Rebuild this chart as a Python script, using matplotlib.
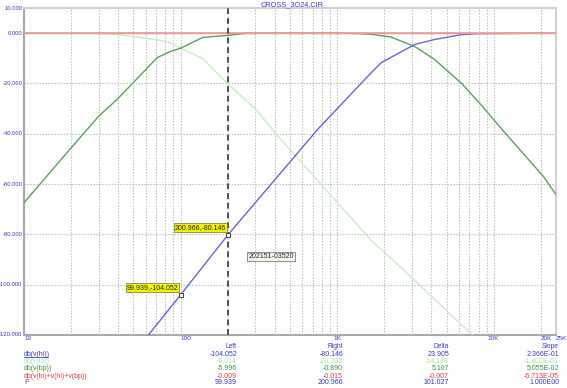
import matplotlib
matplotlib.use("Agg")
import matplotlib.pyplot as plt
from matplotlib.ticker import NullLocator
import matplotlib.transforms as mtransforms

plt.rcParams['font.family'] = ['Liberation Sans', 'DejaVu Sans']

# ---------------- data ----------------
title = "CROSS_3O24.CIR"

f_hi = [62.3, 100, 200.966, 755, 1652, 1914, 3130, 4200, 6240, 8000, 14000, 25000]
db_hi = [-120, -104.052, -80.146, -38.1, -15.7, -11.7, -4.5, -2.5, -0.6, -0.2, -0.1, 0.0]

f_lo = [10, 20, 30, 41, 50, 71, 86, 99.939, 138.6, 200.966, 302, 406, 1652, 3070, 6240, 7500]
db_lo = [0, 0, -0.1, -0.6, -1.4, -2.6, -3.8, -6.014, -10.1, -20.203, -30.2, -40, -82.4, -97.8, -116, -120.5]

f_bp = [10, 20, 30, 39.4, 50, 71, 86, 99.939, 138.6, 200.966, 260, 400, 1000, 1400, 1652,
        2200, 3130, 4200, 6240, 8440, 11200, 20800, 25000]
db_bp = [-67.4, -45.6, -33, -26.3, -19.6, -9.7, -7.3, -5.996, -1.7, -0.890, -0.1, 0, 0, -0.2, -0.5,
         -1.5, -5.3, -10.5, -20, -29, -38, -57, -64.2]

f_sum = [10, 99.939, 200.966, 25000]
db_sum = [-0.01, -0.009, -0.015, -0.01]

cursor_left = 99.939
cursor_right = 200.966

yticks = [10, 0, -20, -40, -60, -80, -100, -120]
ytick_labels = ["10.000", "0.000", "-20.000", "-40.000", "-60.000", "-80.000", "-100.000", "-120.000"]
xticks = [10, 100, 1000, 10000, 20000, 25000]
xtick_labels = ["10", "100", "1K", "10K", "20K", "25K"]

row_names = ["db(v(hi))", "db(v(lo))", "db(v(bp))", "db(v(lo)+v(hi)+v(bp))", "F"]
col_left = ["-104.052", "-6.014", "-5.996", "-0.009", "99.939"]
col_right = ["-80.146", "-20.203", "-0.890", "-0.015", "200.966"]
col_delta = ["23.905", "-14.189", "5.107", "-0.007", "101.027"]
col_slope = ["2.366E-01", "-1.403E-01", "5.055E-02", "-6.713E-05", "1.000E00"]
stamp = "202151-03520"

# ---------------- style ----------------
c_blue = "#6f5fd6"
c_lo = "#c6efc6"
c_bp = "#5e9f5e"
c_red = "#eb9a9a"
c_text = "#3838c8"
row_colors = [c_text, "#a8e2a8", "#3f8f3f", "#e03a3a", c_text]
FS = 5

W, H = 567, 388
fig = plt.figure(figsize=(W / 100, H / 100), dpi=100, facecolor="white")
L, R, T, B = 24, 556, 8, 335
ax = fig.add_axes([L / W, 1 - B / H, (R - L) / W, (B - T) / H])
ax.set_xscale("log")
ax.set_xlim(10, 25000)
ax.set_ylim(-120, 10)
ax.set_facecolor("white")

# grid
grid_x = []
for dec in [10, 100, 1000]:
    grid_x += [dec * k for k in range(2, 10)]
grid_x += [100, 1000, 10000, 20000]
for gx in grid_x:
    ax.axvline(gx, color="#b8b8b8", lw=0.8, ls=(0, (1.2, 1.5)), zorder=1)
for gy in [-20, -40, -60, -80, -100]:
    ax.axhline(gy, color="#b8b8b8", lw=0.8, ls=(0, (1.2, 1.5)), zorder=1)

ax.xaxis.set_major_locator(NullLocator())
ax.xaxis.set_minor_locator(NullLocator())
ax.yaxis.set_major_locator(NullLocator())
ax.yaxis.set_minor_locator(NullLocator())

for s in ["left", "bottom"]:
    ax.spines[s].set_color("#a8a8a8")
    ax.spines[s].set_linewidth(1.5)
for s in ["top", "right"]:
    ax.spines[s].set_color("#d0d0d0")
    ax.spines[s].set_linewidth(1.5)

# curves
ax.plot(f_lo, db_lo, color=c_lo, lw=1.0, zorder=3)
ax.plot(f_bp, db_bp, color=c_bp, lw=1.0, zorder=4)
ax.plot(f_hi, db_hi, color=c_blue, lw=1.0, zorder=4)
ax.plot(f_sum, db_sum, color=c_red, lw=1.5, zorder=5)

# cursor
ax.axvline(cursor_right, color="#505050", lw=1.4, ls=(0, (3, 2)), zorder=6)

# markers and annotation boxes
for fx, fy, txt in [(cursor_left, col_left[0], f"{cursor_left:.3f},{col_left[0]}"),
                    (cursor_right, col_right[0], f"{cursor_right:.3f},{col_right[0]}")]:
    yv = float(fy)
    ax.plot([fx], [yv], marker="s", ms=3.5, mfc="white", mec="#404040", mew=0.7, zorder=8)
    ax.annotate(txt, (fx, yv), xytext=(-1.5, 2.5), textcoords="offset points",
                ha="right", va="bottom", fontsize=FS, color="#202020", zorder=9,
                bbox=dict(boxstyle="square,pad=0.15", fc="#f4f400", ec="#707030", lw=0.5))

ax.text(378, -88.8, stamp, fontsize=FS, color="#202020", ha="center", va="center", zorder=9,
        bbox=dict(boxstyle="square,pad=0.2", fc="#f8f8f0", ec="#606060", lw=0.5))

# title
fig.text(292 / W, 1 - 5 / H, title, ha="center", va="center", fontsize=FS + 0.3, color=c_text)

# y tick labels
ytr = mtransforms.blended_transform_factory(ax.transAxes, ax.transData)
for yv, lab in zip(yticks, ytick_labels):
    ax.text(-0.003, yv, lab, transform=ytr, ha="right", va="center", fontsize=4.2, color=c_text)

# x tick labels
has = ["left", "left", "center", "center", "left", "left"]
xtr = mtransforms.blended_transform_factory(ax.transData, ax.transAxes)
for xv, lab, ha in zip(xticks, xtick_labels, has):
    ax.text(xv, -0.004, lab, transform=xtr, ha=ha, va="top", fontsize=4.6, color=c_text)

# cursor table
rows_y = [354, 361.5, 369, 376, 383]
cols_x = [237, 343, 449, 559]
for x, h in zip(cols_x, ["Left", "Right", "Delta", "Slope"]):
    fig.text(x / W, 1 - 347 / H, h, ha="right", va="center", fontsize=4.8, color=c_text)
for i, yy in enumerate(rows_y):
    col = row_colors[i]
    fig.text(24 / W, 1 - yy / H, row_names[i], ha="left", va="center", fontsize=FS, color=col)
    for x, vals in zip(cols_x, [col_left, col_right, col_delta, col_slope]):
        fig.text(x / W, 1 - yy / H, vals[i], ha="right", va="center", fontsize=FS, color=col)
fig.add_artist(plt.Line2D([24 / W, 48 / W], [1 - 357.3 / H, 1 - 357.3 / H], color=c_text, lw=0.6))

fig.savefig("out.png", dpi=100, facecolor="white")
